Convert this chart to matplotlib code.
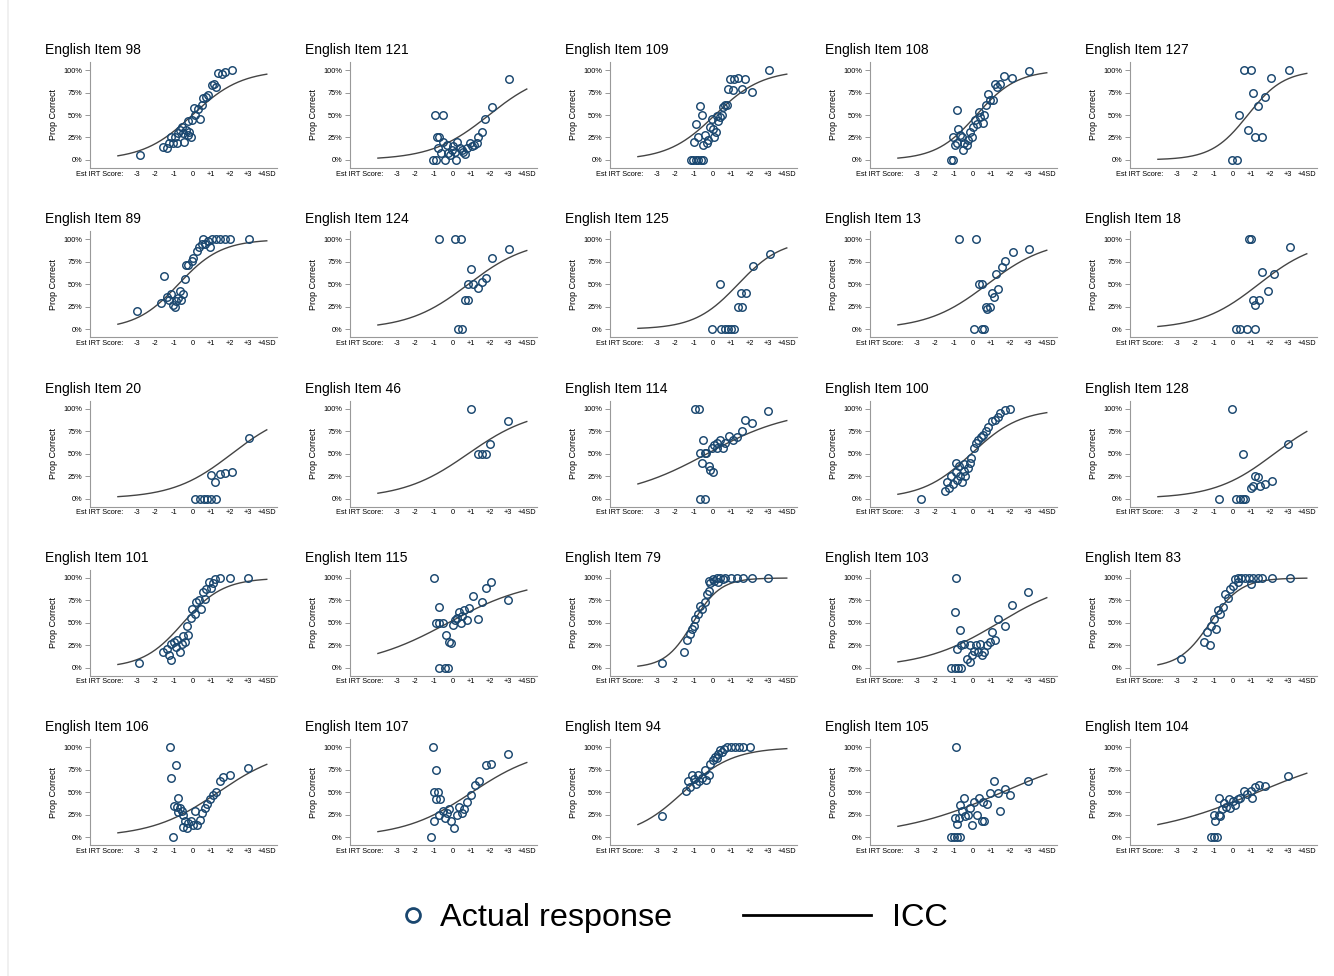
import numpy as np
import matplotlib
matplotlib.use("Agg")
import matplotlib.pyplot as plt
from matplotlib.lines import Line2D

plt.rcParams['font.family'] = ['Liberation Sans', 'DejaVu Sans']

# item order, row by row
items = [98, 121, 109, 108, 127,
         89, 124, 125, 13, 18,
         20, 46, 114, 100, 128,
         101, 115, 79, 103, 83,
         106, 107, 94, 105, 104]

# ICC parameters (discrimination a, difficulty b)
icc_a = [0.76, 0.65, 0.79, 0.92, 1.03,
         0.87, 0.62, 0.86, 0.62, 0.64,
         0.63, 0.57, 0.44, 0.76, 0.62,
         0.93, 0.44, 1.35, 0.49, 1.2,
         0.555, 0.54, 0.75, 0.355, 0.34]
icc_b = [0.0, 1.97, 0.14, 0.22, 0.83,
         -0.75, 0.85, 1.38, 0.8, 1.41,
         2.13, 0.86, -0.27, -0.05, 2.26,
         -0.5, -0.23, -1.05, 1.41, -1.2,
         1.39, 1.06, -1.57, 1.61, 1.35]

# actual responses (est. IRT score, proportion correct)
x_98 = [-2.82, -1.56, -1.38, -1.24, -1.15, -1.06, -0.93, -0.84, -0.75, -0.66, -0.57, -0.48, -0.45, -0.34, -0.25,
        -0.16, -0.09, -0.22, -0.04, 0.14, 0.32, 0.41, 0.09, 0.50, 0.59, 0.74, 0.86, 1.04, 1.17, 1.27, 1.40, 1.58, 1.76, 2.12]
y_98 = [0.06, 0.14, 0.13, 0.19, 0.26, 0.19, 0.26, 0.19, 0.30, 0.33, 0.37, 0.30, 0.20, 0.33, 0.28,
        0.31, 0.26, 0.43, 0.44, 0.50, 0.57, 0.46, 0.58, 0.61, 0.69, 0.70, 0.72, 0.83, 0.84, 0.81, 0.97, 0.96, 0.98, 1.0]

x_121 = [-1.02, -0.88, -0.93, -0.52, -0.81, -0.70, -0.75, -0.63, -0.48, -0.39, -0.31, -0.25, -0.13, -0.04, 0.05, 0.14,
         0.20, 0.27, 0.41, 0.50, 0.59, 0.68, 0.77, 0.95, 1.04, 1.17, 1.31, 1.40, 1.58, 1.76, 2.12, 3.02]
y_121 = [0.0, 0.0, 0.5, 0.5, 0.25, 0.25, 0.13, 0.08, 0.2, 0.0, 0.17, 0.08, 0.06, 0.11, 0.15, 0.09,
         0.0, 0.2, 0.13, 0.11, 0.09, 0.07, 0.13, 0.19, 0.15, 0.17, 0.19, 0.26, 0.31, 0.46, 0.59, 0.9]

x_109 = [-1.15, -1.02, -0.88, -0.75, -0.63, -0.48, -0.99, -0.88, -0.66, -0.57, -0.75, -0.48, -0.39, -0.31, -0.22, -0.13,
         -0.04, 0.05, 0.11, 0.20, 0.23, 0.32, 0.41, 0.50, 0.59, 0.68, 0.77, 0.83, 0.95, 1.10, 1.19, 1.40, 1.58, 1.76, 2.12, 3.02]
y_109 = [0.0, 0.0, 0.0, 0.0, 0.0, 0.0, 0.2, 0.4, 0.6, 0.5, 0.26, 0.17, 0.28, 0.19, 0.22, 0.37,
         0.46, 0.34, 0.25, 0.31, 0.49, 0.43, 0.48, 0.5, 0.59, 0.61, 0.61, 0.79, 0.9, 0.78, 0.9, 0.91, 0.79, 0.9, 0.76, 1.0]

x_108 = [-1.15, -1.06, -0.81, -1.02, -0.93, -0.84, -0.75, -0.66, -0.57, -0.48, -0.43, -0.31, -0.22, -0.13, -0.04, 0.05,
         0.14, 0.23, 0.38, 0.41, 0.56, 0.63, 0.74, 0.86, 0.95, 1.10, 1.22, 1.35, 1.49, 1.71, 2.12, 3.02]
y_108 = [0.0, 0.0, 0.56, 0.26, 0.17, 0.19, 0.34, 0.28, 0.26, 0.11, 0.19, 0.17, 0.22, 0.31, 0.25, 0.37,
         0.44, 0.40, 0.53, 0.48, 0.41, 0.5, 0.61, 0.73, 0.67, 0.67, 0.84, 0.81, 0.85, 0.93, 0.91, 0.99]

x_127 = [-0.04, 0.27, 0.38, 0.63, 0.99, 0.86, 1.10, 1.22, 1.40, 1.58, 1.76, 2.08, 3.02]
y_127 = [0.0, 0.0, 0.5, 1.0, 1.0, 0.33, 0.75, 0.25, 0.6, 0.25, 0.7, 0.91, 1.0]

x_89 = [-2.95, -1.68, -1.5, -1.36, -1.23, -1.14, -1.04, -0.95, -0.86, -0.77, -0.68, -0.59, -0.5, -0.41, -0.32, -0.23,
        -0.04, 0.05, 0.23, 0.36, 0.5, 0.59, 0.82, 0.96, 1.05, 1.27, 1.5, 1.73, 2.05, 3.05, 0.68]
y_89 = [0.2, 0.29, 0.59, 0.36, 0.33, 0.39, 0.27, 0.25, 0.31, 0.35, 0.43, 0.33, 0.39, 0.56, 0.71, 0.72,
        0.76, 0.79, 0.875, 0.91, 0.95, 1.0, 0.985, 0.91, 1.0, 1.0, 1.0, 1.0, 1.0, 1.0, 0.95]

x_124 = [-0.73, 0.16, 0.47, 0.29, 0.51, 0.69, 0.82, 0.82, 1.0, 1.13, 1.36, 1.58, 1.8, 2.11, 3.04]
y_124 = [1.0, 1.0, 1.0, 0.0, 0.0, 0.33, 0.33, 0.5, 0.67, 0.5, 0.46, 0.53, 0.57, 0.79, 0.89]

x_125 = [0.0, 0.45, 0.7, 0.85, 1.0, 1.15, 0.42, 1.36, 1.58, 1.53, 1.8, 2.2, 3.09]
y_125 = [0.0, 0.0, 0.0, 0.0, 0.0, 0.0, 0.5, 0.25, 0.25, 0.4, 0.4, 0.7, 0.84]

x_13 = [-0.72, 0.2, 0.07, 0.5, 0.64, 0.37, 0.5, 0.72, 0.81, 0.94, 1.03, 1.16, 1.25, 1.38, 1.6, 1.73, 2.17, 3.05]
y_13 = [1.0, 1.0, 0.0, 0.0, 0.0, 0.5, 0.5, 0.25, 0.22, 0.25, 0.4, 0.36, 0.62, 0.45, 0.69, 0.76, 0.86, 0.89]

x_18 = [0.87, 1.0, 0.2, 0.42, 0.78, 1.22, 1.09, 1.22, 1.44, 1.58, 1.89, 2.24, 3.09]
y_18 = [1.0, 1.0, 0.0, 0.0, 0.0, 0.0, 0.33, 0.27, 0.33, 0.64, 0.42, 0.62, 0.92]

x_20 = [0.15, 0.4, 0.6, 0.8, 1.0, 1.25, 0.99, 1.21, 1.48, 1.75, 2.11, 3.05]
y_20 = [0.0, 0.0, 0.0, 0.0, 0.0, 0.0, 0.26, 0.18, 0.27, 0.28, 0.29, 0.67]

x_46 = [1.0, 1.36, 1.58, 1.8, 2.02, 3.0]
y_46 = [1.0, 0.5, 0.5, 0.5, 0.61, 0.86]

x_114 = [-0.91, -0.69, -0.64, -0.42, -0.64, -0.51, -0.56, -0.33, -0.2, -0.11, 0.02, 0.0, 0.11, 0.24, 0.42, 0.56,
         0.69, 0.87, 1.13, 1.31, 1.58, 1.76, 2.11, 3.0, 0.24, -0.42]
y_114 = [1.0, 1.0, 0.0, 0.0, 0.51, 0.65, 0.4, 0.51, 0.36, 0.32, 0.29, 0.56, 0.6, 0.56, 0.65, 0.56,
         0.62, 0.7, 0.65, 0.69, 0.75, 0.875, 0.84, 0.97, 0.62, 0.51]

x_100 = [-2.74, -1.47, -1.34, -1.25, -1.12, -1.03, -0.9, -0.81, -0.72, -0.64, -0.55, -0.46, -0.37, -0.24, -0.15, -0.07,
         0.07, 0.2, 0.33, 0.46, 0.59, 0.72, 0.86, 1.03, 1.21, 1.38, 1.51, 1.73, 2.04, -0.46, -0.9]
y_100 = [0.0, 0.085, 0.18, 0.12, 0.25, 0.16, 0.29, 0.21, 0.36, 0.25, 0.18, 0.31, 0.25, 0.34, 0.39, 0.45,
         0.56, 0.62, 0.65, 0.69, 0.71, 0.75, 0.8, 0.86, 0.875, 0.91, 0.95, 0.985, 1.0, 0.38, 0.4]

x_128 = [0.0, 0.56, -0.69, 0.2, 0.42, 0.56, 0.69, 1.0, 1.13, 1.22, 1.36, 1.49, 1.76, 2.11, 3.0]
y_128 = [1.0, 0.5, 0.0, 0.0, 0.0, 0.0, 0.0, 0.12, 0.14, 0.25, 0.24, 0.14, 0.16, 0.19, 0.61]

x_101 = [-2.87, -1.57, -1.35, -1.26, -1.12, -1.12, -0.99, -0.9, -0.81, -0.67, -0.58, -0.49, -0.4, -0.31, -0.22, -0.09,
         0.0, 0.13, 0.22, 0.36, 0.49, 0.58, 0.76, 0.9, 1.12, 1.21, 1.48, 2.02, 3.0, 0.99, 0.67]
y_101 = [0.05, 0.18, 0.21, 0.14, 0.09, 0.26, 0.29, 0.23, 0.31, 0.18, 0.26, 0.35, 0.29, 0.46, 0.36, 0.56,
         0.65, 0.6, 0.73, 0.75, 0.65, 0.84, 0.875, 0.96, 0.94, 0.985, 1.0, 1.0, 1.0, 0.89, 0.77]

x_115 = [-0.96, -0.69, -0.87, -0.69, -0.51, -0.33, -0.16, -0.07, -0.69, -0.42, -0.24, 0.02, 0.24, 0.38, 0.51, 0.64,
         0.78, 0.91, 1.13, 1.36, 1.58, 1.8, 2.07, 3.0, 0.47, 0.16]
y_115 = [1.0, 0.68, 0.5, 0.5, 0.5, 0.37, 0.29, 0.28, 0.0, 0.0, 0.0, 0.48, 0.56, 0.62, 0.58, 0.64,
         0.53, 0.67, 0.8, 0.54, 0.73, 0.89, 0.95, 0.76, 0.5, 0.53]

x_79 = [-2.69, -1.53, -1.36, -1.22, -1.09, -1.0, -0.91, -0.78, -0.64, -0.56, -0.42, -0.29, -0.2, -0.11, 0.02, 0.11,
        0.24, 0.42, 0.69, 1.0, 1.31, 1.67, 2.11, 3.0, 0.33, 0.56, -0.2]
y_79 = [0.05, 0.18, 0.31, 0.38, 0.43, 0.47, 0.54, 0.6, 0.69, 0.65, 0.73, 0.82, 0.85, 0.94, 0.985, 0.97,
        1.0, 1.0, 1.0, 1.0, 1.0, 1.0, 1.0, 1.0, 0.955, 0.985, 0.97]

x_103 = [-0.9, -0.94, -0.68, -1.12, -0.94, -0.77, -0.59, -0.81, -0.59, -0.46, -0.28, -0.15, -0.15, -0.02, 0.07, 0.2,
         0.33, 0.42, 0.5, 0.64, 0.77, 0.94, 1.07, 1.2, 1.38, 1.73, 2.13, 3.0]
y_103 = [1.0, 0.62, 0.42, 0.0, 0.0, 0.0, 0.0, 0.21, 0.25, 0.26, 0.1, 0.06, 0.25, 0.14, 0.19, 0.25,
         0.18, 0.27, 0.14, 0.18, 0.25, 0.29, 0.4, 0.31, 0.54, 0.47, 0.7, 0.84]

x_83 = [-2.78, -1.53, -1.36, -1.22, -1.13, -1.0, -0.87, -0.78, -0.64, -0.51, -0.38, -0.24, -0.11, 0.02, 0.16, 0.29,
        0.47, 0.69, 0.91, 1.13, 1.36, 1.58, 2.11, 3.09, 1.0, 0.33]
y_83 = [0.1, 0.29, 0.4, 0.25, 0.47, 0.54, 0.43, 0.64, 0.6, 0.68, 0.82, 0.78, 0.875, 0.91, 0.985, 1.0,
        1.0, 1.0, 1.0, 1.0, 1.0, 1.0, 1.0, 1.0, 0.93, 0.95]

x_106 = [-1.21, -1.12, -0.9, -1.03, -0.99, -0.85, -0.76, -0.67, -0.58, -0.49, -0.4, -0.31, -0.22, -0.09, 0.04, 0.13,
         0.27, 0.4, 0.54, 0.67, 0.81, 0.94, 1.12, 1.26, 1.48, 1.66, 2.02, 3.0, -0.76, -0.49]
y_106 = [1.0, 0.66, 0.8, 0.0, 0.35, 0.34, 0.43, 0.32, 0.29, 0.25, 0.18, 0.1, 0.16, 0.18, 0.14, 0.29,
         0.14, 0.19, 0.27, 0.32, 0.37, 0.42, 0.47, 0.5, 0.62, 0.67, 0.69, 0.77, 0.28, 0.11]

x_107 = [-1.04, -0.87, -1.13, -0.96, -0.78, -0.87, -0.64, -0.96, -0.69, -0.51, -0.42, -0.29, -0.16, -0.07, 0.11, 0.24,
         0.38, 0.51, 0.64, 0.78, 1.0, 1.22, 1.44, 1.8, 2.07, 3.0]
y_107 = [1.0, 0.75, 0.0, 0.5, 0.5, 0.42, 0.42, 0.18, 0.25, 0.29, 0.21, 0.27, 0.31, 0.18, 0.1, 0.25,
         0.34, 0.27, 0.31, 0.39, 0.47, 0.58, 0.62, 0.8, 0.81, 0.93]

x_94 = [-2.69, -1.44, -1.31, -1.18, -1.09, -1.0, -0.87, -0.78, -0.69, -0.56, -0.42, -0.33, -0.2, -0.11, 0.02, 0.16,
        0.29, 0.42, 0.6, 0.78, 1.0, 1.22, 1.44, 1.67, 2.02, 0.51, 0.24]
y_94 = [0.24, 0.51, 0.62, 0.56, 0.69, 0.65, 0.59, 0.69, 0.62, 0.66, 0.75, 0.64, 0.69, 0.81, 0.86, 0.89,
        0.93, 0.97, 0.985, 1.0, 1.0, 1.0, 1.0, 1.0, 1.0, 0.95, 0.88]

x_105 = [-0.9, -1.16, -0.99, -0.81, -0.68, -0.94, -0.72, -0.68, -0.46, -0.55, -0.37, -0.24, -0.11, -0.02, 0.11, 0.24,
         0.37, 0.5, 0.64, 0.77, 0.94, 1.16, 1.38, 1.51, 1.73, 2.04, 3.0, -0.81, 0.59]
y_105 = [1.0, 0.0, 0.0, 0.0, 0.0, 0.21, 0.21, 0.36, 0.43, 0.29, 0.23, 0.25, 0.32, 0.14, 0.39, 0.25,
         0.44, 0.18, 0.18, 0.37, 0.49, 0.62, 0.49, 0.29, 0.54, 0.47, 0.62, 0.15, 0.39]

x_104 = [-1.13, -0.96, -0.82, -1.0, -0.91, -0.73, -0.73, -0.56, -0.47, -0.33, -0.2, -0.11, 0.02, 0.16, 0.29, 0.42,
         0.6, 0.78, 1.0, 1.22, 1.44, 1.76, 3.0, -0.64, 1.04]
y_104 = [0.0, 0.0, 0.0, 0.25, 0.18, 0.43, 0.25, 0.31, 0.38, 0.34, 0.42, 0.32, 0.4, 0.36, 0.42, 0.43,
         0.51, 0.48, 0.51, 0.56, 0.58, 0.57, 0.68, 0.23, 0.43]

resp_x = [x_98, x_121, x_109, x_108, x_127, x_89, x_124, x_125, x_13, x_18,
          x_20, x_46, x_114, x_100, x_128, x_101, x_115, x_79, x_103, x_83,
          x_106, x_107, x_94, x_105, x_104]
resp_y = [y_98, y_121, y_109, y_108, y_127, y_89, y_124, y_125, y_13, y_18,
          y_20, y_46, y_114, y_100, y_128, y_101, y_115, y_79, y_103, y_83,
          y_106, y_107, y_94, y_105, y_104]

xtick_pos = [-5, -3, -2, -1, 0, 1, 2, 3, 4]
xtick_lab = ["Est IRT Score:", "-3", "-2", "-1", "0", "+1", "+2", "+3", "+4SD"]
ytick_pos = [0, 0.25, 0.5, 0.75, 1.0]
ytick_lab = ["0%", "25%", "50%", "75%", "100%"]

navy = "#1a476f"
W, H = 1334, 976
fig = plt.figure(figsize=(W / 100, H / 100), dpi=100)
fig.patch.set_facecolor("white")

theta = np.linspace(-4, 4, 200)
for k, item in enumerate(items):
    r, c = divmod(k, 5)
    left = (90 + 260 * c) / W
    bottom = 1 - (168 + 169.3 * r) / H
    ax = fig.add_axes([left, bottom, 187 / W, 106 / H])

    p = 1 / (1 + np.exp(-icc_a[k] * (theta - icc_b[k])))
    ax.plot(theta, p, color="#444444", lw=1.0, zorder=2)
    ax.plot(resp_x[k], resp_y[k], linestyle="none", marker="o", ms=5.4,
            mfc="none", mec=navy, mew=1.05, zorder=3)

    ax.set_xlim(-5.5, 4.55)
    ax.set_ylim(-0.09, 1.09)
    ax.set_xticks(xtick_pos)
    ax.set_xticklabels(xtick_lab)
    ax.set_yticks(ytick_pos)
    ax.set_yticklabels(ytick_lab)
    ax.tick_params(axis="x", length=0, pad=1.8, labelsize=5.3)
    ax.tick_params(axis="y", length=3.5, width=0.6, color="#888888", pad=2, labelsize=5.3)
    ax.set_ylabel("Prop Correct", fontsize=6.5, labelpad=4)
    for s in ["top", "right"]:
        ax.spines[s].set_visible(False)
    for s in ["left", "bottom"]:
        ax.spines[s].set_color("#999999")
        ax.spines[s].set_linewidth(0.8)
    ax.patch.set_alpha(0)

    fig.text((45 + 260 * c) / W, 1 - (50 + 169.3 * r) / H, f"English Item {item}",
             fontsize=10, va="center", ha="left")

# legend
h1 = Line2D([], [], linestyle="none", marker="o", ms=10, mfc="none", mec=navy, mew=2)
h2 = Line2D([], [], color="black", lw=2)
yl = 1 - 918 / H
fig.legend([h1], ["Actual response"], loc="center left", bbox_to_anchor=(400 / W, yl),
           frameon=False, fontsize=23.3, handlelength=0.8, handletextpad=0.45,
           borderpad=0, borderaxespad=0)
fig.legend([h2], ["ICC"], loc="center left", bbox_to_anchor=(743 / W, yl),
           frameon=False, fontsize=23.3, handlelength=3.95, handletextpad=0.65,
           borderpad=0, borderaxespad=0)

fig.add_artist(Line2D([7.5 / W, 7.5 / W], [0, 1], color="#eeeeee", lw=1.2))

fig.savefig("out.png", dpi=100)
